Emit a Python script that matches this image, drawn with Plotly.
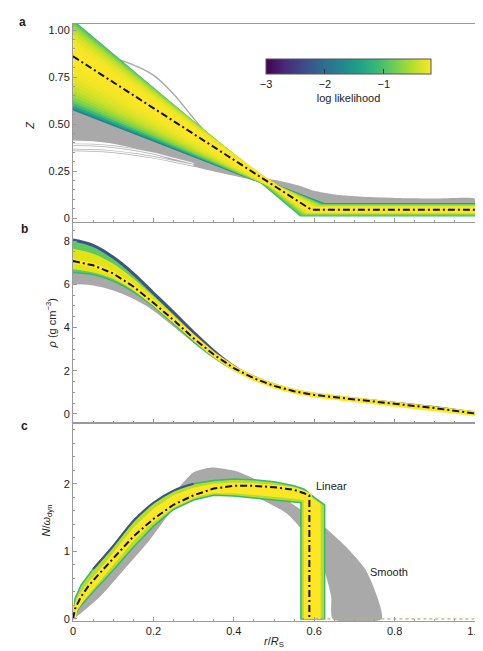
import plotly.graph_objects as go
from plotly.subplots import make_subplots
from plotly.colors import sample_colorscale

# ---------------- DATA ----------------
# Panel a: linear-Z models, each a broken line (0,z0) -> (rt,zout) -> (1,zout)
a_z0 = [0.585, 0.597, 0.610, 0.625, 0.640, 0.657, 0.675, 0.695, 0.717, 0.740, 0.765, 0.790, 0.815,
        0.840, 0.865, 0.890, 0.915, 0.940, 0.963, 0.983, 1.000, 1.013, 1.024, 1.033, 1.040]
a_rt = [0.624, 0.622, 0.620, 0.618, 0.616, 0.614, 0.612, 0.609, 0.606, 0.603, 0.600, 0.598, 0.596,
        0.594, 0.592, 0.590, 0.588, 0.585, 0.582, 0.579, 0.576, 0.574, 0.572, 0.570, 0.567]
a_zout = [0.068, 0.066, 0.064, 0.062, 0.060, 0.058, 0.056, 0.054, 0.052, 0.050, 0.048, 0.047, 0.046,
          0.045, 0.044, 0.043, 0.041, 0.039, 0.037, 0.035, 0.033, 0.030, 0.027, 0.023, 0.020]
a_ll = [-1.75, -1.40, -1.10, -0.88, -0.72, -0.60, -0.50, -0.42, -0.36, -0.31, -0.27, -0.24, -0.22,
        -0.21, -0.20, -0.21, -0.23, -0.27, -0.33, -0.42, -0.53, -0.66, -0.80, -0.95, -1.10]
a_best_r = [0.0, 0.593, 1.0]
a_best_z = [0.86, 0.044, 0.044]
# smooth models (grey envelope)
a_grey_up_r = [0, 0.1, 0.2, 0.3, 0.4, 0.47, 0.52, 0.56, 0.6, 0.65, 0.72, 0.8, 0.9, 1.0]
a_grey_up_z = [0.585, 0.55, 0.47, 0.37, 0.28, 0.215, 0.195, 0.175, 0.145, 0.125, 0.113, 0.107, 0.104, 0.103]
a_grey_lo_r = [1.0, 0.75, 0.65, 0.6, 0.55, 0.5, 0.44, 0.36, 0.28, 0.2, 0.15, 0.1, 0.05, 0]
a_grey_lo_z = [0.055, 0.055, 0.058, 0.075, 0.12, 0.168, 0.205, 0.243, 0.285, 0.34, 0.372, 0.395, 0.408, 0.412]
a_grey_line_r = [0, 0.05, 0.1, 0.15, 0.2, 0.25, 0.3, 0.35, 0.4, 0.45, 0.5]
a_grey_line_z = [0.87, 0.865, 0.85, 0.815, 0.76, 0.66, 0.53, 0.41, 0.31, 0.24, 0.19]
a_light_r = [0, 0.05, 0.1, 0.15, 0.2, 0.25, 0.3]
a_light1_z = [0.39, 0.388, 0.38, 0.365, 0.345, 0.318, 0.29]
a_light2_z = [0.362, 0.36, 0.353, 0.34, 0.323, 0.302, 0.28]

# Panel b: density
b_r = [0, 0.05, 0.1, 0.15, 0.2, 0.25, 0.3, 0.35, 0.4, 0.45, 0.5, 0.55, 0.6, 0.7, 0.8, 0.9, 1.0]
b_best = [7.08, 6.88, 6.50, 5.90, 5.15, 4.35, 3.50, 2.75, 2.12, 1.65, 1.30, 1.05, 0.88, 0.66, 0.47, 0.27, 0.02]
b_hi = [8.05, 7.80, 7.25, 6.50, 5.60, 4.70, 3.78, 2.92, 2.20, 1.70, 1.34, 1.08, 0.91, 0.69, 0.50, 0.30, 0.05]
b_yel_hi = [7.65, 7.42, 6.95, 6.27, 5.45, 4.58, 3.68, 2.87, 2.17, 1.68, 1.32, 1.07, 0.90, 0.68, 0.49, 0.29, 0.04]
b_yel_lo = [6.70, 6.55, 6.25, 5.72, 5.03, 4.22, 3.38, 2.65, 2.07, 1.62, 1.28, 1.03, 0.86, 0.64, 0.45, 0.25, 0.00]
b_lo = [6.55, 6.45, 6.15, 5.65, 4.98, 4.18, 3.35, 2.62, 2.04, 1.60, 1.26, 1.02, 0.85, 0.63, 0.44, 0.24, -0.01]
b_grey_lo = [6.00, 5.95, 5.72, 5.33, 4.78, 4.05, 3.28, 2.58, 2.03, 1.60, 1.26, 1.02, 0.85, 0.63, 0.44, 0.24, 0.00]

# Panel c: buoyancy frequency
c_best_r = [0, 0.005, 0.02, 0.04, 0.07, 0.1, 0.15, 0.2, 0.25, 0.3, 0.35, 0.4, 0.45, 0.5, 0.55, 0.575, 0.588, 0.588]
c_best_n = [0, 0.15, 0.33, 0.50, 0.70, 0.90, 1.22, 1.48, 1.69, 1.83, 1.93, 1.97, 1.97, 1.95, 1.91, 1.86, 1.83, 0]
c_zero_r = [0.588, 1.0]
c_zero_n = [0, 0]
c_out_r = [0, 0.005, 0.02, 0.05, 0.1, 0.15, 0.2, 0.25, 0.3, 0.35, 0.4, 0.45, 0.5, 0.55, 0.575, 0.6, 0.626, 0.626,
           0.567, 0.567, 0.55, 0.5, 0.45, 0.4, 0.35, 0.3, 0.25, 0.2, 0.15, 0.1, 0.05, 0.02, 0.005, 0]
c_out_n = [0, 0.30, 0.50, 0.74, 1.08, 1.45, 1.72, 1.90, 2.00, 2.05, 2.07, 2.06, 2.03, 1.97, 1.92, 1.80, 1.69, 0,
           0, 1.72, 1.73, 1.76, 1.79, 1.82, 1.83, 1.76, 1.62, 1.37, 1.06, 0.72, 0.40, 0.20, 0.08, 0]
c_in_r = [0, 0.01, 0.03, 0.06, 0.1, 0.15, 0.2, 0.25, 0.3, 0.35, 0.4, 0.45, 0.5, 0.55, 0.575, 0.6, 0.616, 0.616,
          0.574, 0.574, 0.55, 0.5, 0.45, 0.4, 0.35, 0.3, 0.25, 0.2, 0.15, 0.1, 0.06, 0.03, 0.01, 0]
c_in_n = [0, 0.28, 0.47, 0.68, 0.98, 1.35, 1.63, 1.83, 1.94, 2.00, 2.02, 2.01, 1.98, 1.92, 1.87, 1.77, 1.70, 0,
          0, 1.76, 1.78, 1.81, 1.84, 1.86, 1.86, 1.81, 1.69, 1.45, 1.15, 0.80, 0.52, 0.30, 0.12, 0]
c_grey_r = [0, 0.05, 0.1, 0.15, 0.2, 0.25, 0.3, 0.345, 0.41, 0.475, 0.532, 0.614, 0.679, 0.728, 0.756, 0.768,
            0.646, 0.642, 0.622, 0.589, 0.532, 0.451, 0.36, 0.28, 0.24, 0.191, 0.134, 0.069, 0]
c_grey_n = [0, 0.45, 0.80, 1.15, 1.50, 1.85, 2.17, 2.24, 2.18, 2.00, 1.76, 1.42, 1.07, 0.73, 0.34, 0,
            0, 0.34, 0.78, 1.17, 1.56, 1.81, 1.88, 1.81, 1.56, 1.17, 0.78, 0.34, 0]

x_tickvals = [0, 0.2, 0.4, 0.6, 0.8, 1.0]
x_ticktext = ["0", "0.2", "0.4", "0.6", "0.8", "1.0"]
a_tickvals = [0, 0.25, 0.5, 0.75, 1.0]
a_ticktext = ["0", "0.25", "0.50", "0.75", "1.00"]
b_tickvals = [0, 2, 4, 6, 8]
c_tickvals = [0, 1, 2]
cb_min, cb_max = -3.0, -0.2
cb_tickvals = [-3, -2, -1]
cb_ticktext = ["\u22123", "\u22122", "\u22121"]

# ---------------- FIGURE ----------------
W, H = 483, 651
ML, MR, MT, MB = 65, 8, 16, 38
PW, PH = W - ML - MR, H - MT - MB

def px_x(px):
    return (px - ML) / PW

def px_y(py):
    return (H - MB - py) / PH

fig = make_subplots(rows=3, cols=1, shared_xaxes=True, vertical_spacing=0)

GREY = "#a9a9a9"
YEL = "#fde725"

def vcol(ll):
    return sample_colorscale("Viridis", [(ll - cb_min) / (cb_max - cb_min)])[0]

# ---- panel a ----
fig.add_trace(go.Scatter(x=a_grey_up_r + a_grey_lo_r, y=a_grey_up_z + a_grey_lo_z, fill="toself",
                         fillcolor=GREY, mode="lines", line=dict(width=0, color=GREY, shape="spline", smoothing=0.5),
                         hoverinfo="skip", showlegend=False), row=1, col=1)
for zz in (a_light1_z, a_light2_z):
    fig.add_trace(go.Scatter(x=a_light_r, y=zz, mode="lines", line=dict(color="#b4b4b4", width=2.6, shape="spline"),
                             showlegend=False, hoverinfo="skip"), row=1, col=1)
    fig.add_trace(go.Scatter(x=a_light_r, y=zz, mode="lines", line=dict(color="#f6f6f6", width=1.2, shape="spline"),
                             showlegend=False, hoverinfo="skip"), row=1, col=1)
fig.add_trace(go.Scatter(x=a_grey_line_r, y=a_grey_line_z, mode="lines",
                         line=dict(color="#a8a8a8", width=1.4, shape="spline"),
                         showlegend=False, hoverinfo="skip"), row=1, col=1)
order = sorted(range(len(a_z0)), key=lambda i: a_ll[i])
for i in order:
    fig.add_trace(go.Scatter(x=[0, a_rt[i], 1.0], y=[a_z0[i], a_zout[i], a_zout[i]], mode="lines",
                             line=dict(color=vcol(a_ll[i]), width=4.5),
                             showlegend=False, hoverinfo="skip"), row=1, col=1)

DASH = "7px,3px,2px,3px"

def best(xs, ys, row):
    fig.add_trace(go.Scatter(x=xs, y=ys, mode="lines", line=dict(color=YEL, width=5),
                             showlegend=False, hoverinfo="skip"), row=row, col=1)
    fig.add_trace(go.Scatter(x=xs, y=ys, mode="lines", line=dict(color="#111111", width=2, dash=DASH),
                             showlegend=False, hoverinfo="skip"), row=row, col=1)

best(a_best_r, a_best_z, 1)

# colorbar (dummy trace)
fig.add_trace(go.Scatter(x=[0.5], y=[0.5], mode="markers",
                         marker=dict(color=[cb_min], colorscale="Viridis", cmin=cb_min, cmax=cb_max,
                                     opacity=0, size=1, showscale=True,
                                     colorbar=dict(orientation="h", x=px_x(346), xanchor="center",
                                                   y=px_y(51), yanchor="top", len=165, lenmode="pixels",
                                                   thickness=15, thicknessmode="pixels",
                                                   outlinewidth=1, outlinecolor="#555555",
                                                   ticks="inside", ticklen=5, tickcolor="#333333",
                                                   tickvals=cb_tickvals, ticktext=cb_ticktext,
                                                   tickfont=dict(size=11, color="#222222"),
                                                   title=dict(text="log likelihood", side="bottom",
                                                              font=dict(size=11, color="#222222")),
                                                   xpad=0, ypad=0)),
                         showlegend=False, hoverinfo="skip"), row=1, col=1)

# ---- panel b ----
fig.add_trace(go.Scatter(x=b_r, y=b_grey_lo, mode="lines", line=dict(width=0, shape="spline"),
                         showlegend=False, hoverinfo="skip"), row=2, col=1)
fig.add_trace(go.Scatter(x=b_r, y=b_best, mode="lines", fill="tonexty", fillcolor=GREY,
                         line=dict(width=0, shape="spline"), showlegend=False, hoverinfo="skip"), row=2, col=1)
fig.add_trace(go.Scatter(x=b_r, y=b_lo, mode="lines", line=dict(width=1.5, color="#35b779", shape="spline"),
                         showlegend=False, hoverinfo="skip"), row=2, col=1)
fig.add_trace(go.Scatter(x=b_r, y=b_hi, mode="lines", fill="tonexty", fillcolor="#5ec962",
                         line=dict(width=3, color="#3b528b", shape="spline"), showlegend=False,
                         hoverinfo="skip"), row=2, col=1)
fig.add_trace(go.Scatter(x=b_r, y=b_yel_lo, mode="lines", line=dict(width=0, shape="spline"),
                         showlegend=False, hoverinfo="skip"), row=2, col=1)
fig.add_trace(go.Scatter(x=b_r, y=b_yel_hi, mode="lines", fill="tonexty", fillcolor="#e2e418",
                         line=dict(width=0, shape="spline"), showlegend=False, hoverinfo="skip"), row=2, col=1)
best(b_r, b_best, 2)

# ---- panel c ----
fig.add_trace(go.Scatter(x=c_grey_r, y=c_grey_n, fill="toself", fillcolor=GREY, mode="lines",
                         line=dict(width=0, color=GREY, shape="spline", smoothing=0.6),
                         showlegend=False, hoverinfo="skip"), row=3, col=1)
fig.add_trace(go.Scatter(x=c_out_r, y=c_out_n, fill="toself", fillcolor="#b5de2b", mode="lines",
                         line=dict(width=1.5, color="#35b779"), showlegend=False, hoverinfo="skip"), row=3, col=1)
fig.add_trace(go.Scatter(x=c_out_r[3:9], y=c_out_n[3:9], mode="lines",
                         line=dict(width=2, color="#3b528b", shape="spline"),
                         showlegend=False, hoverinfo="skip"), row=3, col=1)
fig.add_trace(go.Scatter(x=c_in_r, y=c_in_n, fill="toself", fillcolor=YEL, mode="lines",
                         line=dict(width=0, color=YEL), showlegend=False, hoverinfo="skip"), row=3, col=1)
fig.add_trace(go.Scatter(x=c_zero_r, y=c_zero_n, mode="lines",
                         line=dict(color="#b8b27a", width=1.2, dash="3px,3px"),
                         showlegend=False, hoverinfo="skip"), row=3, col=1)
best(c_best_r, c_best_n, 3)

# ---------------- AXES ----------------
FONT = "Liberation Sans, Arial, Helvetica, sans-serif"
LINEC = "#9a9a9a"
common_x = dict(range=[0, 1], showline=True, linecolor=LINEC, linewidth=1, mirror=True,
                ticks="inside", ticklen=4, tickcolor=LINEC, tickvals=x_tickvals, ticktext=x_ticktext,
                minor=dict(ticks="inside", ticklen=2, dtick=0.05, tick0=0, tickcolor=LINEC),
                showgrid=False, zeroline=False, tickfont=dict(size=11, color="#222222"))
fig.update_xaxes(**common_x)
fig.update_xaxes(showticklabels=False, row=1, col=1)
fig.update_xaxes(showticklabels=False, row=2, col=1)
fig.update_xaxes(showticklabels=True, row=3, col=1)

common_y = dict(showline=True, linecolor=LINEC, linewidth=1, mirror=True, ticks="inside", ticklen=4,
                tickcolor=LINEC, showgrid=False, zeroline=False, tickfont=dict(size=11, color="#222222"))
fig.update_yaxes(**common_y)
fig.update_yaxes(range=[-0.021, 1.032], tickvals=a_tickvals, ticktext=a_ticktext,
                 minor=dict(ticks="inside", ticklen=2, dtick=0.05, tick0=0, tickcolor=LINEC),
                 domain=[px_y(214), 1.0], row=1, col=1)
fig.update_yaxes(range=[-0.42, 8.84], tickvals=b_tickvals,
                 minor=dict(ticks="inside", ticklen=2, dtick=0.5, tick0=0, tickcolor=LINEC),
                 domain=[px_y(415), px_y(215)], row=2, col=1)
fig.update_yaxes(range=[-0.03, 2.9], tickvals=c_tickvals,
                 minor=dict(ticks="inside", ticklen=2, dtick=0.2, tick0=0, tickcolor=LINEC),
                 domain=[0, px_y(415)], row=3, col=1)

anns = [
    dict(text="<b>a</b>", x=px_x(14), y=px_y(14), font=dict(size=12)),
    dict(text="<b>b</b>", x=px_x(16), y=px_y(221), font=dict(size=12)),
    dict(text="<b>c</b>", x=px_x(16), y=px_y(418), font=dict(size=12)),
    dict(text="<i>Z</i>", x=px_x(21), y=px_y(117), textangle=-90, font=dict(size=11)),
    dict(text="<i>\u03c1</i> (g cm<sup>\u22123</sup>)", x=px_x(43), y=px_y(315), textangle=-90, font=dict(size=11)),
    dict(text="<i>N</i>/<i>\u03c9</i><sub>dyn</sub>", x=px_x(38), y=px_y(513), textangle=-90, font=dict(size=11)),
    dict(text="<i>r</i>/<i>R</i><sub>S</sub>", x=0.5, y=px_y(634), font=dict(size=11)),
]
for a in anns:
    fig.add_annotation(xref="paper", yref="paper", showarrow=False, xanchor="center", yanchor="middle", **a)

fig.add_annotation(x=0.6, y=1.97, xref="x3", yref="y3", text="Linear", showarrow=False,
                   xanchor="left", yanchor="middle", font=dict(size=11))
fig.add_annotation(x=0.735, y=0.70, xref="x3", yref="y3", text="Smooth", showarrow=False,
                   xanchor="left", yanchor="middle", font=dict(size=11))

fig.update_layout(width=W, height=H, margin=dict(l=ML, r=MR, t=MT, b=MB),
                  plot_bgcolor="white", paper_bgcolor="white",
                  font=dict(family=FONT, size=11, color="#222222"), showlegend=False)

fig.write_html("out.html")
